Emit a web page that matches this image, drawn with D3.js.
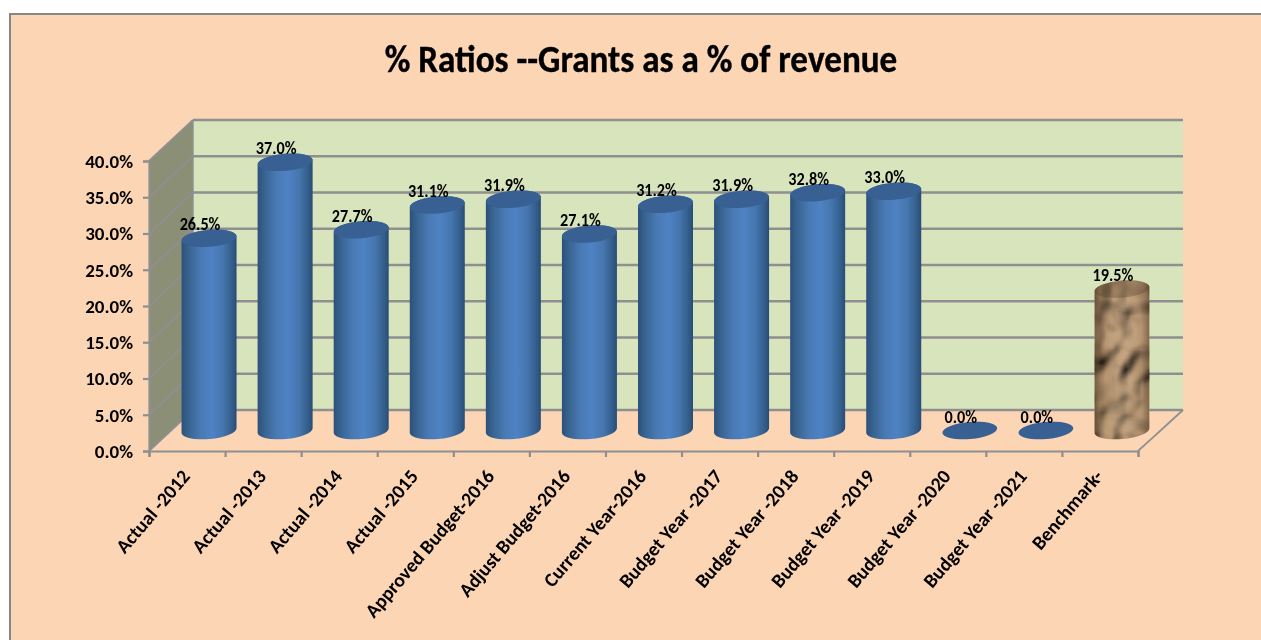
<!DOCTYPE html>
<html><head><meta charset="utf-8">
<style>
html,body{margin:0;padding:0;background:#fff;overflow:hidden}
svg{display:block}
text{font-family:Carlito,Lato,"Open Sans",sans-serif;font-weight:700;fill:#000}
</style>
<script src="https://cdn.jsdelivr.net/npm/d3@7/dist/d3.min.js"></script>
</head><body><svg id="c" width="1261" height="640"></svg>
<script>
const chartTitle = "% Ratios --Grants as a % of revenue";
const categories = ["Actual -2012","Actual -2013","Actual -2014","Actual -2015","Approved Budget-2016","Adjust Budget-2016","Current Year-2016","Budget Year -2017","Budget Year -2018","Budget Year -2019","Budget Year -2020","Budget Year -2021","Benchmark-"];
const values = [26.5,37.0,27.7,31.1,31.9,27.1,31.2,31.9,32.8,33.0,0,0,19.5];
const yTicks = [0,5,10,15,20,25,30,35,40];
const texturedCategories = ["Benchmark-"];

const W=1261,H=640, x0=149,x1=1138,yB=451,yT=161, dX=44,dY=-41;
const svg=d3.select("#c");
const defs=svg.append("defs");

const grad=defs.append("linearGradient").attr("id","cyl").attr("x1",0).attr("x2",1).attr("y1",0).attr("y2",0);
[[0,"#2c5079"],[0.12,"#37638f"],[0.35,"#4a7ab5"],[0.55,"#4f82c4"],[0.75,"#4576ad"],[0.92,"#335d8b"],[1,"#294c74"]]
  .forEach(([o,c])=>grad.append("stop").attr("offset",o).attr("stop-color",c));

const gradT=defs.append("linearGradient").attr("id","cylShade").attr("x1",0).attr("x2",1).attr("y1",0).attr("y2",0);
[[0,"#2a1c0e",0.5],[0.2,"#2a1c0e",0.08],[0.55,"#fff",0.05],[0.85,"#2a1c0e",0.1],[1,"#2a1c0e",0.45]]
  .forEach(([o,c,a])=>gradT.append("stop").attr("offset",o).attr("stop-color",c).attr("stop-opacity",a));

const f=defs.append("filter").attr("id","crumple").attr("x",0).attr("y",0).attr("width","100%").attr("height","100%");
f.append("feTurbulence").attr("type","fractalNoise").attr("baseFrequency","0.035 0.03").attr("numOctaves",2).attr("seed",9).attr("result","n");
const lit=f.append("feDiffuseLighting").attr("in","n").attr("surfaceScale",16).attr("diffuseConstant",1.0).attr("lighting-color","#c8a47e");
lit.append("feDistantLight").attr("azimuth",235).attr("elevation",50);

const soft=defs.append("filter").attr("id","soft").attr("x","-5%").attr("y","-5%").attr("width","110%").attr("height","110%");
soft.append("feGaussianBlur").attr("stdDeviation",0.4);

// frame
svg.append("rect").attr("x",10).attr("y",14).attr("width",W+20).attr("height",H+20)
  .attr("fill","#FCD5B5").attr("stroke","#868686").attr("stroke-width",2);

const y=d3.scaleLinear().domain([0,40]).range([yB,yT]);
const xBand=d3.scaleBand().domain(categories).range([x0,x1]).paddingInner(0).paddingOuter(0);
const xTick=d3.scaleLinear().domain([0,categories.length]).range([x0,x1]);

const g=svg.append("g").attr("filter","url(#soft)");

// back wall
g.append("rect").attr("x",x0+dX).attr("y",y(40)+dY).attr("width",x1-x0+1).attr("height",y(0)-y(40)).attr("fill","#D7E4BC");
// side wall
g.append("path").attr("d",d3.line()([[x0,y(0)],[x0+dX,y(0)+dY],[x0+dX,y(40)+dY],[x0,y(40)]])+"Z").attr("fill","#8B8F76");

const gridC="#8f8f8f";
g.append("g").selectAll("line").data(yTicks).join("line")
  .attr("x1",x0+dX).attr("x2",x1+dX+1).attr("y1",d=>y(d)+dY).attr("y2",d=>y(d)+dY)
  .attr("stroke",gridC).attr("stroke-width",2.4);
g.append("g").selectAll("line").data(yTicks).join("line")
  .attr("x1",x0).attr("x2",x0+dX).attr("y1",d=>y(d)).attr("y2",d=>y(d)+dY)
  .attr("stroke",gridC).attr("stroke-width",1.8);
g.append("line").attr("x1",x1).attr("y1",y(0)).attr("x2",x1+dX+1).attr("y2",y(0)+dY).attr("stroke",gridC).attr("stroke-width",1.8);
g.append("line").attr("x1",x0+dX).attr("y1",y(0)+dY).attr("x2",x0+dX).attr("y2",y(40)+dY).attr("stroke",gridC).attr("stroke-width",1.4);

// axes
const axL=g.append("g").attr("transform",`translate(${x0},0)`).call(d3.axisLeft(y).tickValues(yTicks).tickSize(6).tickFormat(d=>d.toFixed(1)+"%").tickPadding(10));
const axB=g.append("g").attr("transform",`translate(0,${yB})`).call(d3.axisBottom(xTick).tickValues(d3.range(categories.length+1)).tickSize(6).tickFormat(""));
[axL,axB].forEach(a=>{a.selectAll("path,line").attr("stroke",gridC).attr("stroke-width",2.2);});
axL.selectAll("text").style("font-size","19px").attr("dy","0.34em").attr("font-family",null);

// category labels
g.append("g").selectAll("text").data(categories).join("text")
  .attr("transform",d=>`translate(${xBand(d)+xBand.bandwidth()/2+4},${yB+26}) rotate(-49.5)`)
  .attr("text-anchor","end").style("font-size","19.6px").text(d=>d);

// cylinders
const rx=27.5, ry=8.5, rot=-5;
const tilt=rx*Math.sin(-rot*Math.PI/180);
const cx=d=>xBand(d)+xBand.bandwidth()/2+dX/2;
const baseY=y(0)+dY/2;
const topY=v=>y(v)+dY/2;
const cylPath=(c,t,b)=>`M${c-rx},${t+tilt}A${rx},${ry} ${rot} 1 1 ${c+rx},${t-tilt}L${c+rx},${b-tilt}A${rx},${ry} ${rot} 1 1 ${c-rx},${b+tilt}Z`;
const ellipse=(sel,c,t)=>sel.append("ellipse").attr("cx",c).attr("cy",t).attr("rx",rx).attr("ry",ry).attr("transform",`rotate(${rot} ${c} ${t})`);

categories.forEach((cat,i)=>{
  const v=values[i], c=cx(cat), t=topY(v), isTex=texturedCategories.includes(cat);
  const bar=g.append("g");
  if(isTex){
    const id="clip"+i;
    defs.append("clipPath").attr("id",id).append("path").attr("d",cylPath(c,t,baseY));
    const tg=bar.append("g").attr("clip-path",`url(#${id})`);
    tg.append("rect").attr("x",c-rx-2).attr("y",t-ry-6).attr("width",2*rx+4).attr("height",baseY-t+2*ry+12).attr("filter","url(#crumple)");
    tg.append("rect").attr("x",c-rx).attr("y",t-ry-6).attr("width",2*rx).attr("height",baseY-t+2*ry+12).attr("fill","url(#cylShade)");
    ellipse(bar,c,t).attr("fill","#4a3520").attr("fill-opacity",0.3);
  } else if(v>0){
    bar.append("path").attr("d",cylPath(c,t,baseY)).attr("fill","url(#cyl)");
    ellipse(bar,c,t).attr("fill","#376092");
  } else {
    ellipse(bar,c,t).attr("fill","#376092");
  }
  g.append("text").attr("transform",`translate(${c-9},${t-8}) scale(0.9,1)`).attr("text-anchor","middle").style("font-size","18px").text(v.toFixed(1)+"%");
});

// title
g.append("text").attr("transform","translate(641,72) scale(0.925,1)").attr("text-anchor","middle").attr("stroke","#000").attr("stroke-width",0.4).style("font-size","38px").text(chartTitle);
</script></body></html>
